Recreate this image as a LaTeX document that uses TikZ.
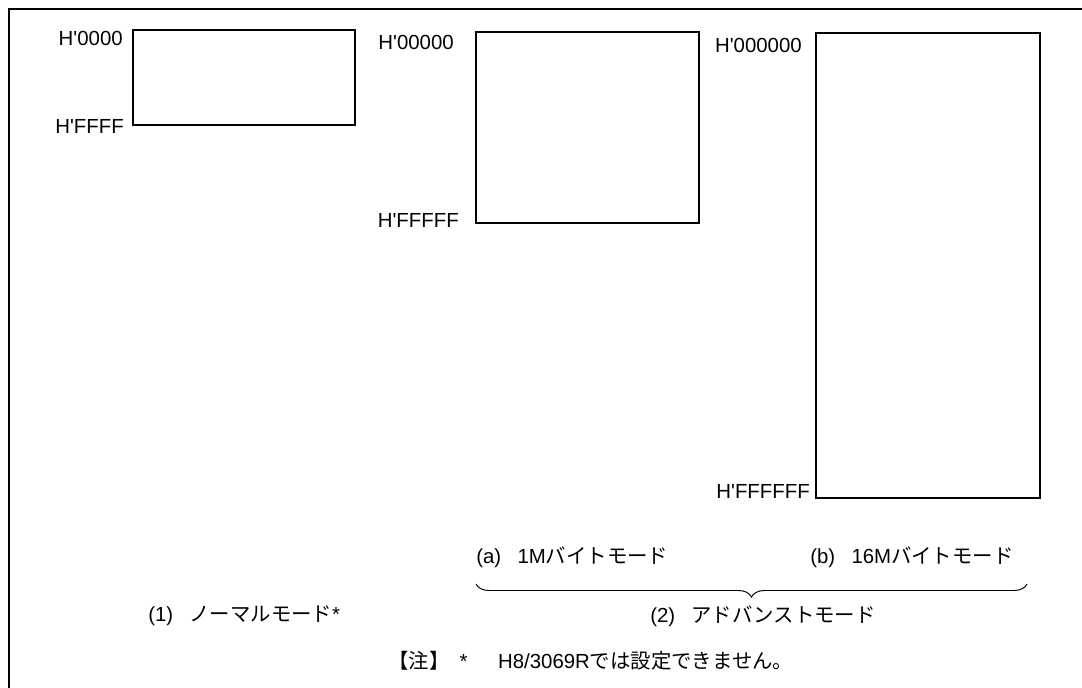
\documentclass[tikz,border=0pt]{standalone}
\usepackage{fontspec}
\setmainfont{Liberation Sans}
\newfontfamily\jp{Noto Sans CJK JP}
\usetikzlibrary{decorations.pathreplacing}

\begin{document}
\begin{tikzpicture}[x=0.025cm,y=-0.025cm,
  font=\fontsize{14.5}{17}\selectfont,
  addr/.style={anchor=east,inner sep=0pt},
  capt/.style={anchor=west,inner sep=0pt}]
\useasboundingbox (0,0) rectangle (1082,688);
% frame
\draw [line width=2pt] (9,688) -- (9,9) -- (1082,9);
% (1) normal mode
\draw [line width=1.1pt] (133,30) rectangle (355,125);
\node [addr] (n0) at (123,38) {H\textquotesingle 0000};
\node [addr] (n1) at (124,126) {H\textquotesingle FFFF};
% (a) 1M byte mode
\draw [line width=1.1pt] (476,32) rectangle (699,223);
\node [addr] (a0) at (454,42) {H\textquotesingle 00000};
\node [addr] (a1) at (459,220) {H\textquotesingle FFFFF};
% (b) 16M byte mode
\draw [line width=1.1pt] (816,33) rectangle (1040,498);
\node [addr] (b0) at (802,45) {H\textquotesingle 000000};
\node [addr] (b1) at (810,491) {H\textquotesingle FFFFFF};
% captions
\node [capt] (ca) at (476,557) {(a)\hspace{0.8em}1M{\jp バイトモード}};
\node [capt] (cb) at (810,557) {(b)\hspace{0.8em}16M{\jp バイトモード}};
\draw [decorate,decoration={brace,mirror,amplitude=0.325cm},line width=0.7pt]
  (476,584) -- (1027,584);
\node [capt] (c2) at (650,616) {(2)\hspace{0.8em}{\jp アドバンストモード}};
\node [capt] (c1) at (148,616) {(1)\hspace{0.8em}{\jp ノーマルモード}*};
\node [capt] (note) at (388,661) {{\jp 【注】}\hspace{0.5em}*\hspace{1.5em}H8/3069R{\jp では設定できません。}};
\end{tikzpicture}
\end{document}
